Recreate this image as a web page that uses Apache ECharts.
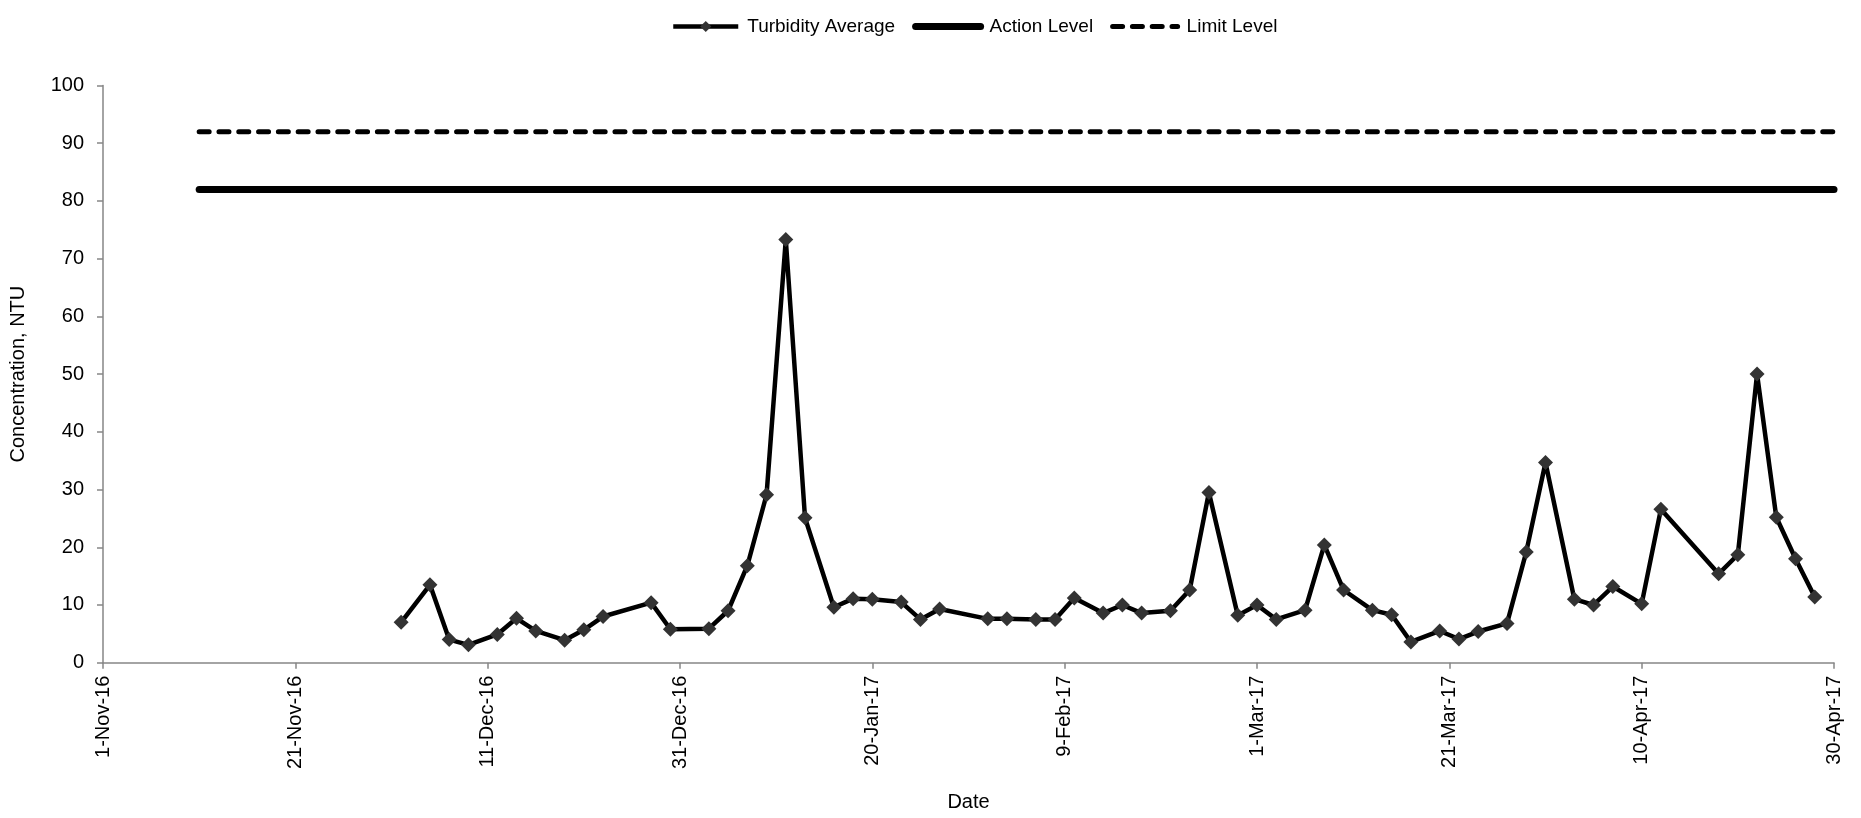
<!DOCTYPE html>
<html>
<head>
<meta charset="utf-8">
<title>Turbidity</title>
<script src="https://cdn.jsdelivr.net/npm/echarts@6/dist/echarts.min.js"></script>
<style>
  html, body { margin: 0; padding: 0; background: #fff; }
  #chart { width: 1861px; height: 818px; }
</style>
</head>
<body>
<div id="chart"></div>
<script>
// sample dates and turbidity averages (NTU)
const sampleDates = [
  "2016-12-02", "2016-12-05", "2016-12-07", "2016-12-09", "2016-12-12", "2016-12-14",
  "2016-12-16", "2016-12-19", "2016-12-21", "2016-12-23", "2016-12-28", "2016-12-30",
  "2017-01-03", "2017-01-05", "2017-01-07", "2017-01-09", "2017-01-11", "2017-01-13",
  "2017-01-16", "2017-01-18", "2017-01-20", "2017-01-23", "2017-01-25", "2017-01-27",
  "2017-02-01", "2017-02-03", "2017-02-06", "2017-02-08", "2017-02-10", "2017-02-13",
  "2017-02-15", "2017-02-17", "2017-02-20", "2017-02-22", "2017-02-24", "2017-02-27",
  "2017-03-01", "2017-03-03", "2017-03-06", "2017-03-08", "2017-03-10", "2017-03-13",
  "2017-03-15", "2017-03-17", "2017-03-20", "2017-03-22", "2017-03-24", "2017-03-27",
  "2017-03-29", "2017-03-31", "2017-04-03", "2017-04-05", "2017-04-07", "2017-04-10",
  "2017-04-12", "2017-04-18", "2017-04-20", "2017-04-22", "2017-04-24", "2017-04-26",
  "2017-04-28"
]
const turbidity = [
  7.0, 13.5, 4.0, 3.1, 4.9, 7.7,
  5.5, 3.9, 5.7, 8.0, 10.4, 5.8,
  5.9, 9.0, 16.8, 29.1, 73.3, 25.1,
  9.6, 11.1, 11.0, 10.5, 7.5, 9.3,
  7.6, 7.6, 7.5, 7.5, 11.2, 8.6,
  10.0, 8.6, 9.0, 12.6, 29.5, 8.2,
  10.0, 7.5, 9.1, 20.4, 12.6, 9.1,
  8.3, 3.6, 5.5, 4.1, 5.4, 6.8,
  19.2, 34.7, 11.0, 10.0, 13.2, 10.2,
  26.6, 15.4, 18.7, 50.0, 25.2, 18.0,
  11.4
]

const levelDates = ["2016-11-11", "2017-04-30"]
const actionLevel = [82, 82]
const limitLevel = [92, 92]

const axisStart = "2016-11-01"
const axisEnd = "2017-04-30"
const months = ["Jan", "Feb", "Mar", "Apr", "May", "Jun", "Jul", "Aug", "Sep", "Oct", "Nov", "Dec"]

const DAY = 86400000
const parseDay = (s) => {
  const p = s.split("-").map(Number)
  return Date.UTC(p[0], p[1] - 1, p[2])
}
const base = parseDay(axisStart)
const dayOf = (s) => Math.round((parseDay(s) - base) / DAY)

const fmtDay = (v) => {
  const d = new Date(base + v * DAY)
  return d.getUTCDate() + "-" + months[d.getUTCMonth()] + "-" + String(d.getUTCFullYear()).slice(2)
}

const pairs = (dates, vals) => dates.map((d, i) => [dayOf(d), vals[i]])

const font = "'Liberation Sans', Arial, sans-serif"

const chart = echarts.init(document.getElementById("chart"))
chart.setOption({
  animation: false,
  textStyle: { fontFamily: font },
  grid: { left: 103, right: 27, top: 85.5, bottom: 155.3 },
  legend: {
    left: 666,
    top: 12,
    itemWidth: 65,
    itemHeight: 14,
    itemGap: 17,
    textStyle: { fontSize: 19, color: "#000", fontFamily: font, padding: [0, 0, 0, 4] },
    data: [
      { name: "Turbidity Average", lineStyle: { width: 4.5, color: "#000" } },
      { name: "Action Level", lineStyle: { width: 7, color: "#000", cap: "round" }, itemStyle: { opacity: 0 } },
      { name: "Limit Level", lineStyle: { width: 5, color: "#000", type: [10, 9.8], cap: "round" }, itemStyle: { opacity: 0 } }
    ]
  },
  xAxis: {
    type: "value",
    min: 0,
    max: dayOf(axisEnd),
    interval: 20,
    name: "Date",
    nameLocation: "middle",
    nameGap: 130,
    nameTextStyle: { fontSize: 20, color: "#000", fontFamily: font },
    axisLine: { lineStyle: { color: "#868686", width: 1.5 } },
    axisTick: { show: true, inside: false, length: 6, lineStyle: { color: "#868686", width: 1.5 } },
    axisLabel: {
      rotate: 90,
      margin: 13,
      fontSize: 20,
      color: "#000",
      fontFamily: font,
      formatter: fmtDay
    },
    splitLine: { show: false }
  },
  yAxis: {
    type: "value",
    min: 0,
    max: 100,
    interval: 10,
    name: "Concentration, NTU",
    nameLocation: "middle",
    nameGap: 75,
    nameTextStyle: { fontSize: 20, color: "#000", fontFamily: font },
    axisLine: { show: true, lineStyle: { color: "#868686", width: 1.5 } },
    axisTick: { show: true, inside: false, length: 6, lineStyle: { color: "#868686", width: 1.5 } },
    axisLabel: { margin: 19, fontSize: 20, color: "#000", fontFamily: font },
    splitLine: { show: false }
  },
  series: [
    {
      name: "Turbidity Average",
      type: "line",
      data: pairs(sampleDates, turbidity),
      symbol: "diamond",
      symbolSize: 15,
      itemStyle: { color: "#333333" },
      lineStyle: { color: "#000", width: 4.5 },
      z: 3
    },
    {
      name: "Action Level",
      type: "line",
      data: pairs(levelDates, actionLevel),
      symbol: "none",
      itemStyle: { color: "#000" },
      lineStyle: { color: "#000", width: 7, cap: "round" },
      z: 2
    },
    {
      name: "Limit Level",
      type: "line",
      data: pairs(levelDates, limitLevel),
      symbol: "none",
      itemStyle: { color: "#000" },
      lineStyle: { color: "#000", width: 5, type: [10, 9.8], cap: "round" },
      z: 2
    }
  ]
})
</script>
</body>
</html>
